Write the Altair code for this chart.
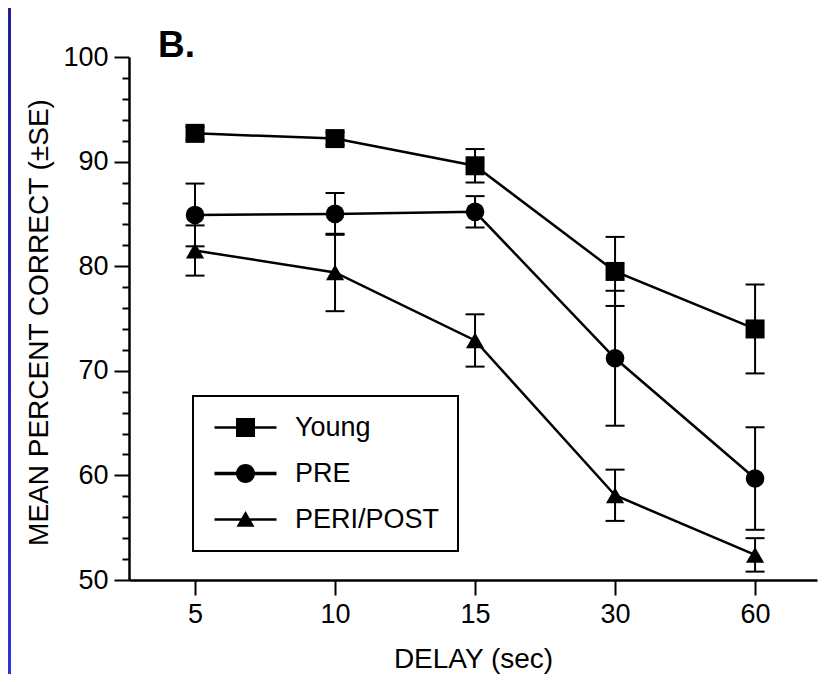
import altair as alt
import pandas as pd

delays = ["5", "10", "15", "30", "60"]
series = ["Young", "PRE", "PERI/POST"]
young_mean = [92.7, 92.2, 89.6, 79.5, 74.0]
young_se = [0.6, 0.6, 1.6, 3.3, 4.25]
pre_mean = [84.9, 85.0, 85.2, 71.2, 59.7]
pre_se = [3.0, 2.0, 1.5, 6.45, 4.9]
peri_mean = [81.5, 79.4, 72.9, 58.1, 52.4]
peri_se = [2.4, 3.7, 2.5, 2.45, 1.6]

means = [young_mean, pre_mean, peri_mean]
ses = [young_se, pre_se, peri_se]

rows = []
for s, m_list, se_list in zip(series, means, ses):
    for i, (d, m, se) in enumerate(zip(delays, m_list, se_list)):
        rows.append({"series": s, "delay": d, "idx": i, "mean": m,
                     "lo": m - se, "hi": m + se})
df = pd.DataFrame(rows)

FONT = "Liberation Sans"
ytitle = "MEAN PERCENT CORRECT (\u00b1SE)"

xaxis = alt.Axis(labelAngle=0, labelFontSize=27, labelFont=FONT, labelColor="black",
                 tickSize=15, tickWidth=2, tickColor="black",
                 domainWidth=2.5, domainColor="black", labelPadding=6,
                 titleFontSize=28, titleFont=FONT, titleFontWeight="normal",
                 titleColor="black", titleY=87, titleBaseline="alphabetic", grid=False)

yaxis = alt.Axis(values=list(range(50, 101, 2)),
                 labelExpr="datum.value % 10 === 0 ? datum.label : ''",
                 tickSize={"condition": {"test": "datum.value % 10 === 0", "value": 15}, "value": 7},
                 tickWidth=2, tickColor="black", domainWidth=2.5, domainColor="black",
                 labelFontSize=27, labelFont=FONT, labelColor="black", labelPadding=6,
                 titleFontSize=28, titleFont=FONT, titleFontWeight="normal", titleColor="black",
                 titleX=-90, titleY=265, titleAngle=270, titleBaseline="middle", titleAlign="center",
                 grid=False)

xscale = alt.Scale(type="point", padding=0.457, align=0.516)
yscale = alt.Scale(domain=[50, 100], nice=False, zero=False)

X = alt.X("delay:O", sort=delays, scale=xscale, axis=xaxis, title="DELAY (sec)")


def Y(field):
    return alt.Y(field + ":Q", scale=yscale, axis=yaxis, title=ytitle)


base = alt.Chart(df)

rules = base.mark_rule(color="black", strokeWidth=2).encode(x=X, y=Y("lo"), y2="hi:Q")
caps_lo = base.mark_tick(color="black", size=19, thickness=2, opacity=1).encode(x=X, y=Y("lo"))
caps_hi = base.mark_tick(color="black", size=19, thickness=2, opacity=1).encode(x=X, y=Y("hi"))
lines = base.mark_line(color="black", strokeWidth=2.5).encode(
    x=X, y=Y("mean"), detail="series:N", order="idx:Q")
points = base.mark_point(filled=True, opacity=1, color="black", strokeWidth=0).encode(
    x=X, y=Y("mean"),
    shape=alt.Shape("series:N", scale=alt.Scale(domain=series, range=["square", "circle", "triangle-up"]), legend=None),
    size=alt.Size("series:N", scale=alt.Scale(domain=series, range=[361, 330, 324]), legend=None),
)

legend_paths = [
    "M-1,-0.12H5.2V0.12H-1Z M1.15,-0.95H3.05V0.95H1.15Z",
    "M-1,-0.18H5.2V0.18H-1Z M1.15,0A0.95,0.95 0 1,1 3.05,0A0.95,0.95 0 1,1 1.15,0Z",
    "M-1,-0.12H5.2V0.12H-1Z M2.1,-0.85L3.0,0.72L1.2,0.72Z",
]

legend_layer = base.mark_point(filled=True, opacity=0, size=400, color="black").encode(
    x=X, y=Y("mean"),
    shape=alt.Shape("series:N", scale=alt.Scale(domain=series, range=legend_paths),
                    legend=alt.Legend(title=None, orient="none", legendX=64, legendY=339,
                                      direction="vertical", strokeColor="black",
                                      fillColor="white", padding=18, symbolSize=400,
                                      symbolFillColor="black", symbolStrokeWidth=0,
                                      symbolOpacity=1, labelFontSize=27, labelFont=FONT,
                                      labelColor="black", labelOffset=57, rowPadding=18,
                                      labelBaseline="middle")),
)

strip = alt.Chart(alt.Data(values=[{"a": 1}])).mark_rect(
    color=alt.LinearGradient(gradient="linear", x1=0, y1=0, x2=0, y2=1,
                             stops=[alt.GradientStop(offset=0, color="#1f1f96"),
                                    alt.GradientStop(offset=1, color="#3030e6")])
).encode(x=alt.value(-121), x2=alt.value(-118), y=alt.value(-49), y2=alt.value(617))

chart = alt.layer(strip, rules, caps_lo, caps_hi, lines, points, legend_layer).resolve_scale(
    shape="independent", size="independent"
).properties(
    width=688, height=523,
    autosize="none",
    padding={"left": 121, "top": 49, "right": 2, "bottom": 94},
    background="white",
    title=alt.TitleParams("B.", anchor="start", frame="group", fontSize=37, fontWeight="bold",
                          font=FONT, color="black", dx=29, dy=86, offset=0, baseline="alphabetic"),
).configure_view(stroke=None).configure_legend(strokeWidth=2)

chart.save("out.html", embed_options={"renderer": "svg", "actions": False})
